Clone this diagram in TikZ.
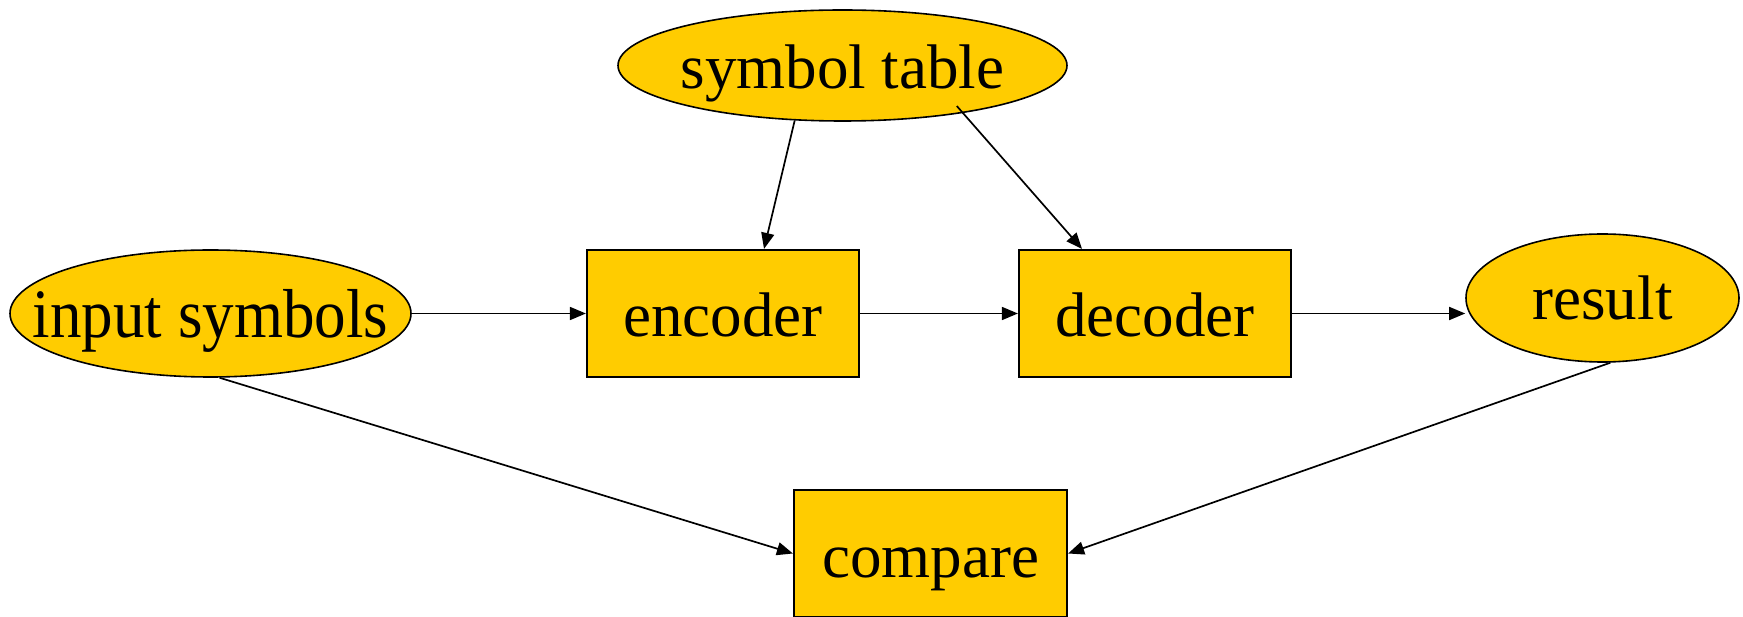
\documentclass[tikz,border=0pt]{standalone}
\usepackage{fontspec}
\setmainfont{Liberation Serif}
\usetikzlibrary{shapes.geometric,arrows.meta}
\definecolor{boxfill}{RGB}{255,204,0}
\tikzset{
  blockbox/.style={draw=black, line width=2.2pt, fill=boxfill, rectangle,
    inner sep=0pt, minimum width=272pt, minimum height=127pt,
    font=\fontsize{63}{70}\selectfont, text depth=0pt},
  ovalbox/.style={draw=black, line width=1.6pt, fill=boxfill, ellipse,
    inner sep=0pt, font=\fontsize{63}{70}\selectfont, text depth=0pt},
  arr/.style={draw=black, line width=1.7pt, -{Triangle[length=16pt,width=13pt]}}
}
\newcommand{\cbox}[1]{\makebox[0pt]{#1}}
\begin{document}
\begin{tikzpicture}[x=1pt,y=1pt]
  \useasboundingbox (0,0) rectangle (1743,616);

  % data sources and sinks
  \node[ovalbox, minimum width=449pt, minimum height=111pt, text height=47pt]
    (st) at (842.5,550.5) {\cbox{symbol table}};
  \node[ovalbox, minimum width=401pt, minimum height=127pt, text height=49pt]
    (in) at (210.5,302.5) {\cbox{\scalebox{1}[1.1]{input symbols}}};
  \node[ovalbox, minimum width=273pt, minimum height=128pt, text height=44pt]
    (res) at (1602.5,318) {\cbox{result}};

  % processing stages
  \node[blockbox, text height=46pt] (enc) at (723,302.5) {\cbox{encoder}};
  \node[blockbox, text height=46pt] (dec) at (1155,302.5) {\cbox{decoder}};
  \node[blockbox, minimum width=273pt, text height=47pt] (cmp) at (930.5,62.5) {\cbox{compare}};

  % main pipeline
  \draw[arr] (in.east) -- (enc.west);
  \draw[arr] (enc.east) -- (dec.west);
  \draw[arr] (dec.east) -- (dec.east -| res.west);

  % symbol table feeds both stages
  \draw[arr] (st.-131) -- ([xshift=41pt]enc.north);
  \draw[arr] ([yshift=8pt]st.-23) -- ([xshift=-73pt]dec.north);

  % comparison of input and output
  \draw[arr] (in.-82) -- (cmp.west);
  \draw[arr] (res.-83) -- (cmp.east);
\end{tikzpicture}
\end{document}
